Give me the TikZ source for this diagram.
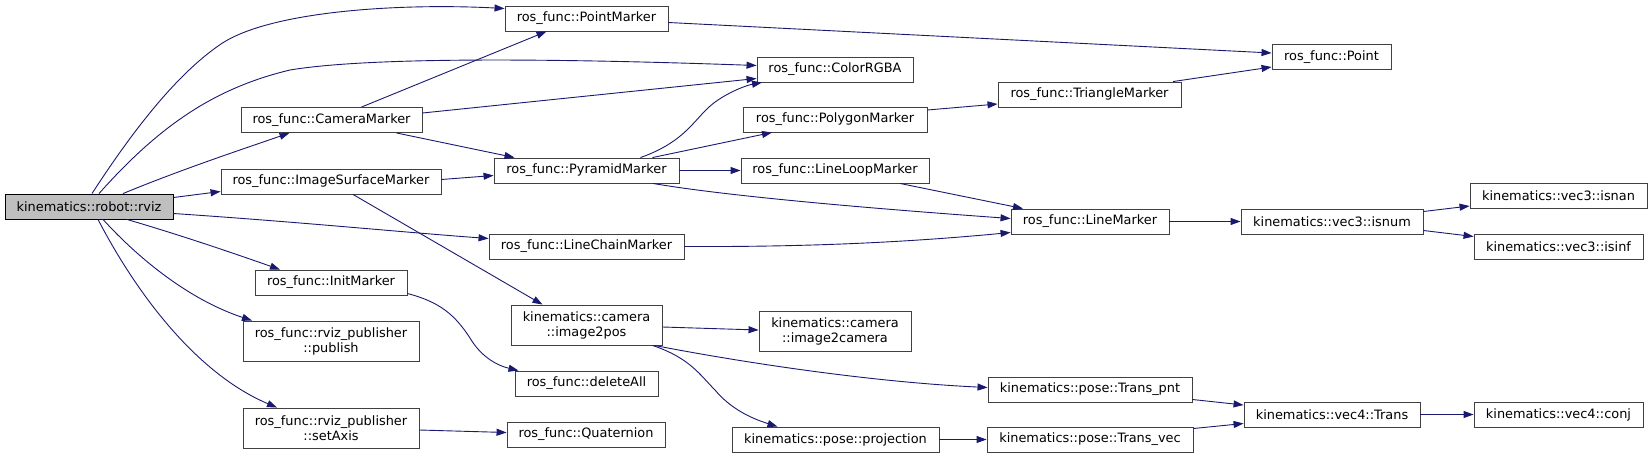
\documentclass[tikz,border=0pt]{standalone}
\usepackage{fontspec}
\setmainfont{DejaVu Sans}
\usetikzlibrary{arrows.meta}
\definecolor{edgeblue}{HTML}{191970}
\definecolor{boxgray}{HTML}{404040}
\definecolor{rootfill}{HTML}{BFBFBF}
\begin{document}
\begin{tikzpicture}[x=1pt,y=-1pt,
  fn/.style={draw=boxgray, fill=white, line width=0.9pt, inner sep=0pt, minimum height=25pt, align=center, font=\fontsize{12.9}{15}\selectfont},
  fntwo/.style={fn, minimum height=40pt},
  rootfn/.style={fn, draw=black, fill=rootfill},
  call/.style={draw=edgeblue, line width=0.9pt, -{Triangle[length=10pt,width=7pt]}}]
\useasboundingbox (0,0) rectangle (1652,459);

% nodes
\node[rootfn, minimum width=168pt] (rviz) at (89,206.5) {kinematics::robot::rviz};
\node[fn, minimum width=181pt] (cam) at (331.5,120) {ros\_func::CameraMarker};
\node[fn, minimum width=220pt] (isurf) at (331,181.5) {ros\_func::ImageSurfaceMarker};
\node[fn, minimum width=152pt] (init) at (331,282.5) {ros\_func::InitMarker};
\node[fntwo, minimum width=176pt] (pub) at (331,341) {ros\_func::rviz\_publisher\\::publish};
\node[fntwo, minimum width=176pt] (axis) at (331,428) {ros\_func::rviz\_publisher\\::setAxis};
\node[fn, minimum width=163pt] (pm) at (586.5,18.5) {ros\_func::PointMarker};
\node[fn, minimum width=185pt] (pyr) at (586.5,170.5) {ros\_func::PyramidMarker};
\node[fn, minimum width=195pt] (lcm) at (586.5,246.5) {ros\_func::LineChainMarker};
\node[fntwo, minimum width=151pt] (i2p) at (586.5,325) {kinematics::camera\\::image2pos};
\node[fn, minimum width=143pt] (del) at (586.5,383.5) {ros\_func::deleteAll};
\node[fn, minimum width=158pt] (quat) at (586,434.5) {ros\_func::Quaternion};
\node[fn, minimum width=156pt] (color) at (835,69.5) {ros\_func::ColorRGBA};
\node[fn, minimum width=184pt] (poly) at (835,119.5) {ros\_func::PolygonMarker};
\node[fn, minimum width=188pt] (ll) at (835,170.5) {ros\_func::LineLoopMarker};
\node[fntwo, minimum width=152pt] (i2c) at (835,331) {kinematics::camera\\::image2camera};
\node[fn, minimum width=207pt] (proj) at (835.5,439.5) {kinematics::pose::projection};
\node[fn, minimum width=183pt] (tri) at (1089.5,94.5) {ros\_func::TriangleMarker};
\node[fn, minimum width=158pt] (lm) at (1090,221.5) {ros\_func::LineMarker};
\node[fn, minimum width=204pt] (tpnt) at (1090,389.5) {kinematics::pose::Trans\_pnt};
\node[fn, minimum width=206pt] (tvec) at (1090,439.5) {kinematics::pose::Trans\_vec};
\node[fn, minimum width=119pt] (point) at (1331.5,57) {ros\_func::Point};
\node[fn, minimum width=182pt] (isnum) at (1332,221.5) {kinematics::vec3::isnum};
\node[fn, minimum width=176pt] (trans) at (1332,414.5) {kinematics::vec4::Trans};
\node[fn, minimum width=177pt] (isnan) at (1558.5,196) {kinematics::vec3::isnan};
\node[fn, minimum width=169pt] (isinf) at (1558.5,246.5) {kinematics::vec3::isinf};
\node[fn, minimum width=169pt] (conj) at (1558.5,414.5) {kinematics::vec4::conj};

% edges from rviz
\draw[call] ([xshift=3pt]rviz.north) .. controls (130,135) and (175,75) .. (221,44) .. controls (270,11) and (400,3) .. ([yshift=10pt]pm.west);
\draw[call] ([xshift=10pt]rviz.north) .. controls (160,125) and (215,88) .. (290,70) .. controls (380,55) and (600,60) .. ([yshift=4pt]color.west);
\draw[call] ([xshift=34pt]rviz.north) .. controls (180,170) and (240,150) .. ([xshift=-42pt]cam.south);
\draw[call] ([yshift=9pt]rviz.east) -- ([yshift=-10pt]isurf.west);
\draw[call] ([yshift=-7pt]rviz.east) .. controls (300,222) and (400,232) .. ([yshift=8pt]lcm.west);
\draw[call] ([xshift=38pt]rviz.south) .. controls (180,235) and (230,252) .. ([xshift=-51pt]init.north);
\draw[call] ([xshift=14pt]rviz.south) .. controls (140,260) and (190,300) .. ([xshift=-79pt]pub.north);
\draw[call] ([xshift=9pt]rviz.south) .. controls (140,300) and (200,375) .. ([xshift=-54pt]axis.north);

% second column
\draw[call] ([xshift=30pt]cam.north) -- ([xshift=-40pt]pm.south);
\draw[call] ([yshift=7pt]cam.east) -- ([yshift=-9pt]color.west);
\draw[call] ([xshift=65pt]cam.south) -- ([xshift=-72pt]pyr.north);
\draw[call] ([yshift=2pt]isurf.east) -- ([yshift=-5pt]pyr.west);
\draw[call] ([xshift=22pt]isurf.south) -- ([xshift=-44pt]i2p.north);
\draw[call] ([yshift=-11pt]init.east) .. controls (440,302) and (455,315) .. (470,338) .. controls (480,355) and (495,365) .. ([xshift=-68pt]del.north);
\draw[call] ([yshift=-2pt]axis.east) -- ([yshift=2pt]quat.west);

% third column
\draw[call] ([yshift=-4pt]pm.east) -- ([yshift=4pt]point.west);
\draw[call] ([xshift=54pt]pyr.north) .. controls (690,140) and (695,115) .. (718,100) .. controls (733,90) and (748,85) .. ([xshift=-73pt]color.south);
\draw[call] ([xshift=66pt]pyr.north) -- ([xshift=-63pt]poly.south);
\draw[call] (pyr.east) -- (ll.west);
\draw[call] ([xshift=66.5pt]pyr.south) .. controls (720,195) and (850,207) .. ([yshift=3pt]lm.west);
\draw[call] (lcm.east) .. controls (800,247) and (900,243) .. ([yshift=-11pt]lm.west);
\draw[call] ([yshift=-2pt]i2p.east) -- ([yshift=1pt]i2c.west);
\draw[call] ([xshift=68pt]i2p.south) .. controls (740,362) and (870,382) .. ([yshift=2pt]tpnt.west);
\draw[call] ([xshift=66pt]i2p.south) .. controls (690,358) and (700,375) .. (715,390) .. controls (730,408) and (750,418) .. ([xshift=-58pt]proj.north);

% fourth column
\draw[call] ([yshift=9.5pt]poly.east) -- ([yshift=-9.5pt]tri.west);
\draw[call] ([xshift=65pt]ll.south) -- ([xshift=-67pt]lm.north);
\draw[call] (proj.east) -- (tvec.west);

% fifth column
\draw[call] ([xshift=83.5pt]tri.north) -- ([yshift=-10pt]point.west);
\draw[call] (lm.east) -- (isnum.west);
\draw[call] ([yshift=-10pt]tpnt.east) -- ([yshift=9.5pt]trans.west);
\draw[call] ([yshift=11pt]tvec.east) -- ([yshift=-9pt]trans.west);

% sixth column
\draw[call] ([yshift=10pt]isnum.east) -- ([yshift=-10pt]isnan.west);
\draw[call] ([yshift=-9pt]isnum.east) -- ([yshift=10pt]isinf.west);
\draw[call] (trans.east) -- (conj.west);
\end{tikzpicture}
\end{document}
